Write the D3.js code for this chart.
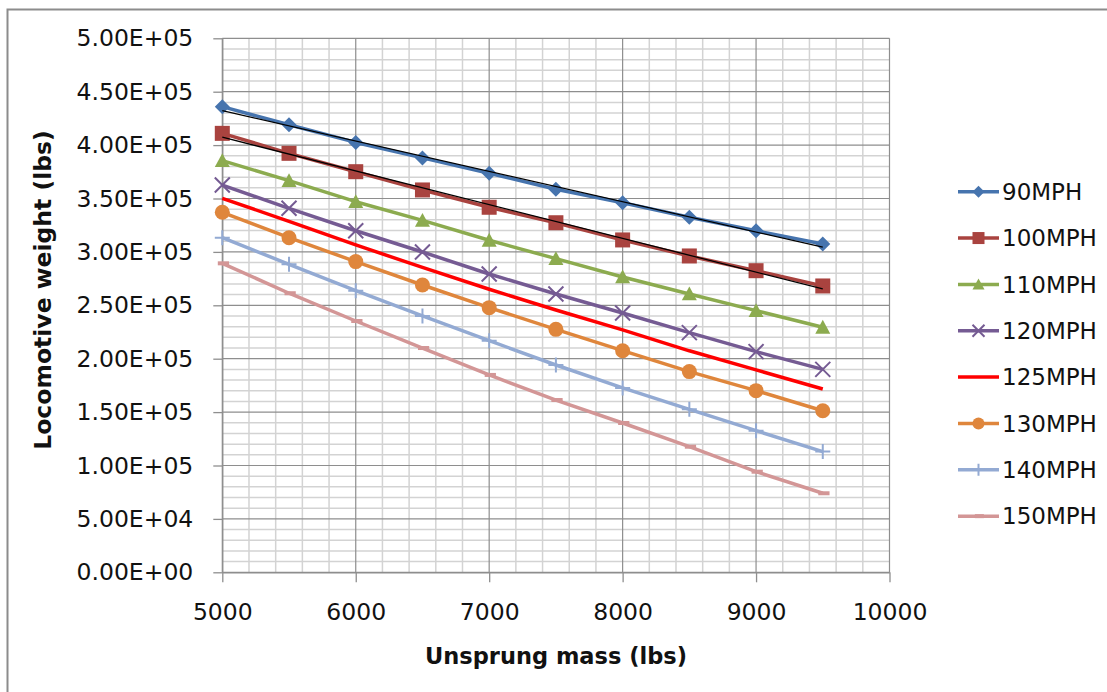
<!DOCTYPE html>
<html>
<head>
<meta charset="utf-8">
<script src="https://cdn.jsdelivr.net/npm/d3@7"></script>
<style>
  html, body { margin: 0; padding: 0; background: #fff; }
  svg { display: block; }
  text { font-family: "DejaVu Sans", sans-serif; fill: #111; }
</style>
</head>
<body>
<svg id="chart" width="1107" height="692"></svg>
<script>
// ---- data ----
const unsprungMass = [5000, 5500, 6000, 6500, 7000, 7500, 8000, 8500, 9000, 9500];
const mph90  = [436000, 419000, 402500, 388000, 373600, 358600, 346000, 332400, 319800, 307400];
const mph100 = [411000, 392300, 375100, 358000, 341800, 327300, 311200, 296200, 282400, 268100];
const mph110 = [385400, 366700, 347000, 329500, 310900, 293700, 276500, 260600, 245000, 229400];
const mph120 = [362600, 340800, 319800, 299900, 279300, 260600, 242800, 224400, 206600, 190000];
const mph125 = [350200, 328600, 306500, 285500, 265000, 245600, 227000, 207400, 189500, 171600];
const mph130 = [337100, 313300, 290900, 269000, 247800, 227500, 207500, 187900, 170100, 151300];
const mph140 = [313300, 288400, 263700, 240000, 216900, 194100, 172600, 152600, 132600, 113000];
const mph150 = [289300, 261300, 235300, 210000, 184800, 161300, 139800, 117600, 94200, 74000];
const seriesNames = ["90MPH", "100MPH", "110MPH", "120MPH", "125MPH", "130MPH", "140MPH", "150MPH"];
const xTickValues = [5000, 6000, 7000, 8000, 9000, 10000];
const yTickValues = [0, 50000, 100000, 150000, 200000, 250000, 300000, 350000, 400000, 450000, 500000];
const xTitle = "Unsprung mass (lbs)";
const yTitle = "Locomotive weight (lbs)";

// ---- styles ----
const seriesData = [mph90, mph100, mph110, mph120, mph125, mph130, mph140, mph150];
const colors = ["#4674AE", "#A9433F", "#8CAB4F", "#755B93", "#FF0000", "#DF863C", "#93AAD3", "#D39696"];
const markers = ["diamond", "square", "triangle", "x", "none", "circle", "plus", "dash"];
const trendSeries = [0, 1];

const svg = d3.select("#chart");
svg.append("rect").attr("width", 1107).attr("height", 692).attr("fill", "#fff");
// outer chart frame
svg.append("rect").attr("x", 7.5).attr("y", 9.5).attr("width", 1120).attr("height", 720)
  .attr("fill", "none").attr("stroke", "#8c8c8c").attr("stroke-width", 2);

const x = d3.scaleLinear().domain([5000, 10000]).range([222.3, 889.5]);
const y = d3.scaleLinear().domain([0, 500000]).range([572.3, 38.3]);

const g = svg.append("g");
// minor grid
const minorX = d3.range(5000, 10001, 200).filter(v => v % 1000 !== 0);
const minorY = d3.range(0, 500001, 10000).filter(v => v % 50000 !== 0);
g.selectAll(".mx").data(minorX).join("line")
  .attr("x1", d => x(d)).attr("x2", d => x(d)).attr("y1", y(0)).attr("y2", y(500000))
  .attr("stroke", "#d3d3d3").attr("stroke-width", 1.5);
g.selectAll(".my").data(minorY).join("line")
  .attr("x1", x(5000)).attr("x2", x(10000)).attr("y1", d => y(d)).attr("y2", d => y(d))
  .attr("stroke", "#d3d3d3").attr("stroke-width", 1.5);
// major grid
g.selectAll(".Mx").data(xTickValues).join("line")
  .attr("x1", d => x(d)).attr("x2", d => x(d)).attr("y1", y(0)).attr("y2", y(500000))
  .attr("stroke", "#8e8e8e").attr("stroke-width", 1.2);
g.selectAll(".My").data(yTickValues).join("line")
  .attr("x1", x(5000)).attr("x2", x(10000)).attr("y1", d => y(d)).attr("y2", d => y(d))
  .attr("stroke", "#8e8e8e").attr("stroke-width", 1.2);

// axes
const fmtE = v => {
  const s = v.toExponential(2);
  const [m, e] = s.split("e");
  const sign = e[0] === "-" ? "-" : "+";
  const digits = e.replace(/[+-]/, "").padStart(2, "0");
  return m + "E" + sign + digits;
};
const yAxis = svg.append("g").attr("transform", `translate(${x(5000)},0)`)
  .call(d3.axisLeft(y).tickValues(yTickValues).tickFormat(fmtE).tickSize(9).tickSizeOuter(0).tickPadding(20));
const xAxis = svg.append("g").attr("transform", `translate(0,${y(0)})`)
  .call(d3.axisBottom(x).tickValues(xTickValues).tickFormat(d3.format("d")).tickSize(10).tickSizeOuter(0).tickPadding(21));
[yAxis, xAxis].forEach(a => {
  a.selectAll("path.domain").attr("stroke", "#8e8e8e").attr("stroke-width", 1.3);
  a.selectAll(".tick line").attr("stroke", "#8e8e8e").attr("stroke-width", 1.3);
  a.selectAll(".tick text").attr("font-family", "DejaVu Sans").attr("font-size", 23.5).attr("fill", "#111");
});

// titles
svg.append("text").text(xTitle).attr("x", 556).attr("y", 664)
  .attr("text-anchor", "middle").attr("font-weight", "bold").attr("font-size", 22.5);
svg.append("text").text(yTitle)
  .attr("transform", "translate(43,290) rotate(-90)")
  .attr("dy", "0.35em").attr("text-anchor", "middle").attr("font-weight", "bold").attr("font-size", 23.5);

// markers
function drawMarker(sel, type, color, s) {
  const r = s / 2;
  if (type === "diamond") {
    sel.append("path").attr("d", `M0,${-r}L${r},0L0,${r}L${-r},0Z`).attr("fill", color);
  } else if (type === "square") {
    sel.append("rect").attr("x", -r).attr("y", -r).attr("width", s).attr("height", s).attr("fill", color);
  } else if (type === "triangle") {
    sel.append("path").attr("d", `M0,${-r}L${r},${r * 0.85}L${-r},${r * 0.85}Z`).attr("fill", color);
  } else if (type === "circle") {
    sel.append("circle").attr("r", r).attr("fill", color);
  } else if (type === "x") {
    sel.append("path").attr("d", `M${-r},${-r}L${r},${r}M${-r},${r}L${r},${-r}`)
      .attr("stroke", color).attr("stroke-width", 2).attr("fill", "none");
  } else if (type === "plus") {
    sel.append("path").attr("d", `M${-r},0L${r},0M0,${-r}L0,${r}`)
      .attr("stroke", color).attr("stroke-width", 2).attr("fill", "none");
  } else if (type === "dash") {
    sel.append("rect").attr("x", -r * 0.6).attr("y", -2).attr("width", s * 0.75).attr("height", 4).attr("fill", color);
  }
}

const line = d3.line().x(d => x(d[0])).y(d => y(d[1]));
seriesData.forEach((vals, i) => {
  const pts = unsprungMass.map((m, k) => [m, vals[k]]);
  const sg = svg.append("g");
  sg.append("path").attr("d", line(pts)).attr("fill", "none")
    .attr("stroke", colors[i]).attr("stroke-width", 3.5).attr("stroke-linejoin", "round");
  pts.forEach(p => {
    const mg = sg.append("g").attr("transform", `translate(${x(p[0])},${y(p[1])})`);
    drawMarker(mg, markers[i], colors[i], 15);
  });
});

// linear trendlines
trendSeries.forEach(i => {
  const vals = seriesData[i];
  const mx = d3.mean(unsprungMass), my = d3.mean(vals);
  let num = 0, den = 0;
  unsprungMass.forEach((m, k) => { num += (m - mx) * (vals[k] - my); den += (m - mx) ** 2; });
  const slope = num / den, icpt = my - slope * mx;
  const x0 = unsprungMass[0], x1 = unsprungMass[unsprungMass.length - 1];
  svg.append("line").attr("x1", x(x0)).attr("y1", y(icpt + slope * x0))
    .attr("x2", x(x1)).attr("y2", y(icpt + slope * x1))
    .attr("stroke", "#000").attr("stroke-width", 1.3);
});

// legend
const lg = svg.append("g");
seriesNames.forEach((name, i) => {
  const yy = 191.7 + i * 46.35;
  const row = lg.append("g").attr("transform", `translate(0,${yy})`);
  row.append("line").attr("x1", 958).attr("x2", 999).attr("y1", 0).attr("y2", 0)
    .attr("stroke", colors[i]).attr("stroke-width", 3.5);
  const mg = row.append("g").attr("transform", "translate(978.5,0)");
  drawMarker(mg, markers[i], colors[i], 12);
  row.append("text").text(name).attr("x", 1002).attr("y", 0).attr("dy", "0.36em")
    .attr("font-size", 23);
});
</script>
</body>
</html>
